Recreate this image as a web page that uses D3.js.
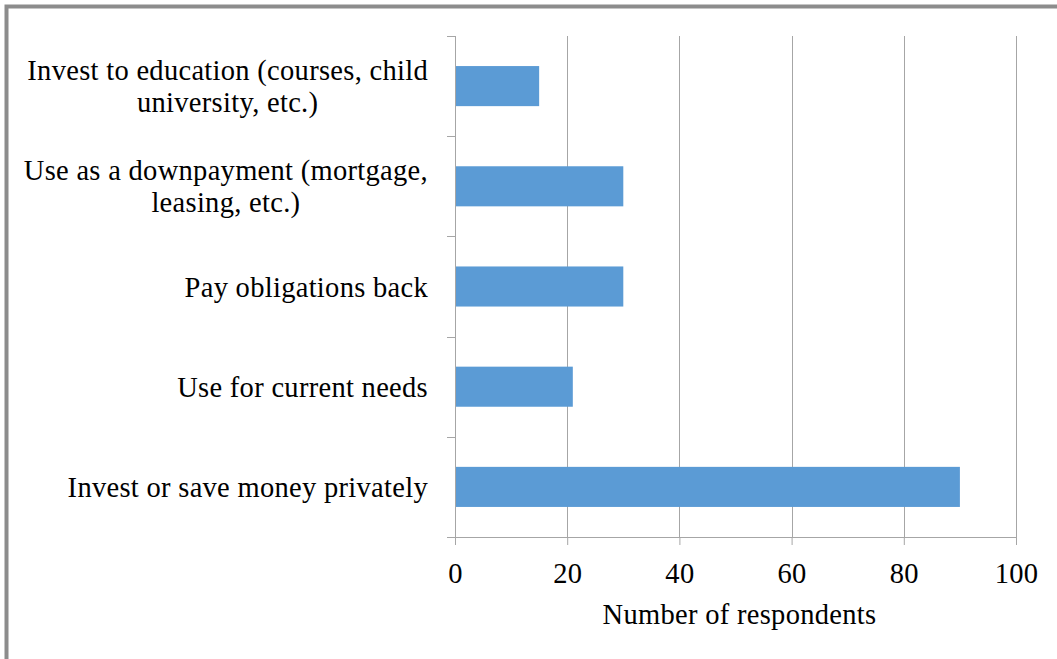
<!DOCTYPE html>
<html>
<head>
<meta charset="utf-8">
<script src="https://cdn.jsdelivr.net/npm/d3@7"></script>
<style>
  html, body { margin: 0; padding: 0; background: #fff; }
  svg { display: block; }
  text { font-family: "Liberation Serif", "Times New Roman", serif; fill: #000; letter-spacing: 0.3px; }
</style>
</head>
<body>
<svg id="chart" width="1057" height="659"></svg>
<script>
// categories top to bottom
const categories = [
  ["Invest to education (courses, child", "university, etc.)"],
  ["Use as a downpayment (mortgage,", "leasing, etc.)"],
  ["Pay obligations back"],
  ["Use for current needs"],
  ["Invest or save money privately"]
];
const respondents = [15, 30, 30, 21, 90];
const xTicks = [0, 20, 40, 60, 80, 100];
const xTitle = "Number of respondents";

const svg = d3.select("#chart");
const W = 1057, H = 659;
const margin = { top: 36, left: 455 };
const width = 1016 - margin.left;
const height = 537 - margin.top;
const fs = 28.5, lh = 32;

// frame border (top and left only)
svg.append("rect").attr("x", 6.5).attr("y", 6.5).attr("width", W).attr("height", H)
  .attr("fill", "none").attr("stroke", "#8c8c8c").attr("stroke-width", 4);

const g = svg.append("g").attr("transform", `translate(${margin.left},${margin.top})`);

const x = d3.scaleLinear().domain([0, 100]).range([0, width]);
const y = d3.scaleBand().domain(d3.range(categories.length)).range([0, height]).paddingInner(0.6).paddingOuter(0.3);

// gridlines
g.append("g")
  .selectAll("line")
  .data(xTicks.slice(1))
  .enter().append("line")
  .attr("x1", d => Math.round(x(d)) + 0.5).attr("x2", d => Math.round(x(d)) + 0.5)
  .attr("y1", 0).attr("y2", height)
  .attr("stroke", "#a6a6a6").attr("stroke-width", 1);

// bars
g.selectAll(".bar")
  .data(respondents)
  .enter().append("rect")
  .attr("class", "bar")
  .attr("x", x(0))
  .attr("y", (d, i) => y(i))
  .attr("width", d => x(d) - x(0))
  .attr("height", y.bandwidth())
  .attr("fill", "#5b9bd5");

// x axis
const xAxis = g.append("g")
  .attr("transform", `translate(0,${height})`)
  .call(d3.axisBottom(x).tickValues(xTicks).tickSize(8).tickPadding(18).tickSizeOuter(0));
xAxis.select(".domain").attr("stroke", "#a6a6a6").attr("d", `M-8,0.5H${width}`);
xAxis.selectAll(".tick line").attr("stroke", "#a6a6a6");
xAxis.selectAll(".tick text").attr("font-size", fs).attr("font-family", "Liberation Serif");

// y axis (boundary ticks)
const yb = d3.scaleLinear().domain([0, categories.length]).range([0, height]);
g.append("line").attr("x1", 0.5).attr("x2", 0.5).attr("y1", 0).attr("y2", height)
  .attr("stroke", "#a6a6a6");
g.append("g").selectAll("line")
  .data(d3.range(categories.length + 1))
  .enter().append("line")
  .attr("x1", -8).attr("x2", 0)
  .attr("y1", d => Math.round(yb(d)) + 0.5).attr("y2", d => Math.round(yb(d)) + 0.5)
  .attr("stroke", "#a6a6a6");

// category labels: block right aligned, lines centred inside the block
const labelRight = -27;
categories.forEach((lines, i) => {
  const cy = y(i) + y.bandwidth() / 2;
  const t = g.append("text").attr("font-size", fs);
  const spans = lines.map((ln, k) => t.append("tspan").text(ln)
    .attr("y", cy + (k - (lines.length - 1) / 2) * lh + 10));
  const maxW = d3.max(spans, s => s.node().getComputedTextLength());
  spans.forEach(s => s.attr("x", labelRight - maxW / 2).attr("text-anchor", "middle"));
});

// axis title
g.append("text")
  .attr("x", width / 2 + 4)
  .attr("y", 624 - margin.top)
  .attr("text-anchor", "middle")
  .attr("font-size", fs)
  .text(xTitle);
</script>
</body>
</html>
